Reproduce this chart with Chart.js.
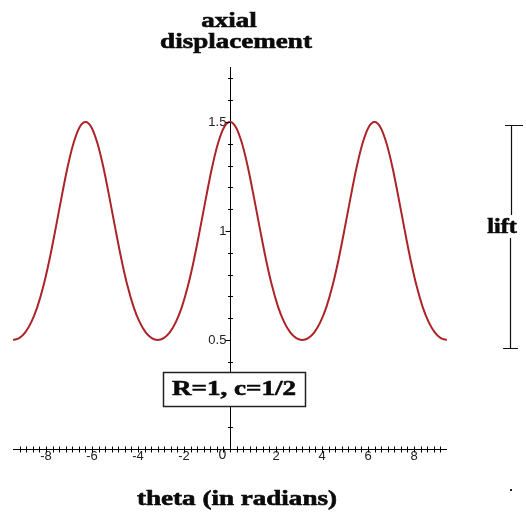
<!DOCTYPE html>
<html>
<head>
<meta charset="utf-8">
<script src="https://cdn.jsdelivr.net/npm/chart.js@4.4.1/dist/chart.umd.min.js"></script>
<style>
  html, body { margin: 0; padding: 0; background: #fff; }
  #wrap { width: 526px; height: 519px; }
</style>
</head>
<body>
<div id="wrap"><canvas id="camChart" width="526" height="519"></canvas></div>
<script>
// theta samples (radians), -3pi .. 3pi
const thetaValues = [
  -9.425, -9.163, -8.901, -8.639, -8.378, -8.116, -7.854, -7.592, -7.330, -7.069, -6.807, -6.545,
  -6.283, -6.021, -5.760, -5.498, -5.236, -4.974, -4.712, -4.451, -4.189, -3.927, -3.665, -3.403,
  -3.142, -2.880, -2.618, -2.356, -2.094, -1.833, -1.571, -1.309, -1.047, -0.785, -0.524, -0.262,
  0, 0.262, 0.524, 0.785, 1.047, 1.309, 1.571, 1.833, 2.094, 2.356, 2.618, 2.880,
  3.142, 3.403, 3.665, 3.927, 4.189, 4.451, 4.712, 4.974, 5.236, 5.498, 5.760, 6.021,
  6.283, 6.545, 6.807, 7.069, 7.330, 7.592, 7.854, 8.116, 8.378, 8.639, 8.901, 9.163, 9.425,
];

// axial displacement at each theta
const displacement = [
  0.5, 0.509, 0.535, 0.582, 0.651, 0.746, 0.866, 1.005, 1.151, 1.289, 1.401, 1.475,
  1.5, 1.475, 1.401, 1.289, 1.151, 1.005, 0.866, 0.746, 0.651, 0.582, 0.535, 0.509,
  0.5, 0.509, 0.535, 0.582, 0.651, 0.746, 0.866, 1.005, 1.151, 1.289, 1.401, 1.475,
  1.5, 1.475, 1.401, 1.289, 1.151, 1.005, 0.866, 0.746, 0.651, 0.582, 0.535, 0.509,
  0.5, 0.509, 0.535, 0.582, 0.651, 0.746, 0.866, 1.005, 1.151, 1.289, 1.401, 1.475,
  1.5, 1.475, 1.401, 1.289, 1.151, 1.005, 0.866, 0.746, 0.651, 0.582, 0.535, 0.509, 0.5,
];

const xMajorTicks = [-8, -6, -4, -2, 0, 2, 4, 6, 8];
const xMinorPerMajor = 6;
const yTickValues = [0.1, 0.2, 0.3, 0.4, 0.5, 0.6, 0.7, 0.8, 0.9, 1, 1.1, 1.2, 1.3, 1.4, 1.5, 1.6, 1.7];
const yTickLabels = ['0.5', '1', '1.5'];

const yTitle = ['axial', 'displacement'];
const xTitle = 'theta (in radians)';
const noteText = 'R=1, c=1/2';
const liftText = 'lift';

const serifBold = 'bold 22px "Liberation Serif", "DejaVu Serif", serif';
const tickFont = { family: '"Liberation Sans", Arial, sans-serif', size: 13 };
const stretch = 1.23;

// x ticks: majors every 2 with 6 minors between
const xTickList = [];
for (let i = -32; i <= 32; i++) {
  xTickList.push({ value: (i * 2) / (xMinorPerMajor + 1), major: i % (xMinorPerMajor + 1) === 0 });
}

function stretchedText(ctx, text, x, y, sx) {
  ctx.save();
  ctx.translate(x, y);
  ctx.scale(sx || stretch, 1);
  ctx.font = serifBold;
  ctx.textAlign = 'center';
  ctx.textBaseline = 'alphabetic';
  ctx.fillStyle = '#0a0a0a';
  ctx.strokeStyle = '#0a0a0a';
  ctx.lineWidth = 0.6;
  ctx.fillText(text, 0, 0);
  ctx.strokeText(text, 0, 0);
  ctx.restore();
}

const decorations = {
  id: 'decorations',
  afterDraw(chart) {
    const { ctx } = chart;
    const xs = chart.scales.x;
    const ys = chart.scales.y;
    const x0 = Math.round(xs.getPixelForValue(0)) + 0.5;
    const y0 = Math.round(ys.getPixelForValue(0)) + 0.5;

    ctx.save();
    ctx.strokeStyle = '#000';
    ctx.lineWidth = 1;
    ctx.beginPath();
    xs.ticks.forEach((t) => {
      const px = Math.round(xs.getPixelForValue(t.value)) + 0.5;
      ctx.moveTo(px, y0 - 3);
      ctx.lineTo(px, y0 + 3);
    });
    ys.ticks.forEach((t) => {
      const py = Math.round(ys.getPixelForValue(t.value)) + 0.5;
      const major = yTickLabels.includes(String(t.value));
      ctx.moveTo(major ? x0 - 5 : x0 - 2.5, py);
      ctx.lineTo(major ? x0 : x0 + 2.5, py);
    });
    ctx.stroke();

    // origin label sits left of the vertical axis
    ctx.fillStyle = '#222';
    ctx.font = '14px "Liberation Sans", Arial, sans-serif';
    ctx.textAlign = 'center';
    ctx.textBaseline = 'middle';
    ctx.fillText('0', x0 - 8, y0 + 6);

    // axis titles
    stretchedText(ctx, yTitle[0], 229, 27);
    stretchedText(ctx, yTitle[1], 236, 48);
    stretchedText(ctx, xTitle, 237, 505);

    // parameter box
    ctx.fillStyle = '#fff';
    ctx.fillRect(163, 372, 143, 35);
    ctx.strokeStyle = '#222';
    ctx.lineWidth = 1.5;
    ctx.strokeRect(163.5, 372.5, 142, 34);
    stretchedText(ctx, noteText, 234, 395);

    // lift bracket
    ctx.strokeStyle = '#111';
    ctx.lineWidth = 1.2;
    ctx.beginPath();
    ctx.moveTo(505, 125.5); ctx.lineTo(523, 125.5);
    ctx.moveTo(511.5, 125.5); ctx.lineTo(511.5, 215);
    ctx.moveTo(510.5, 238); ctx.lineTo(510.5, 348);
    ctx.moveTo(503, 348.5); ctx.lineTo(518, 348.5);
    ctx.stroke();
    stretchedText(ctx, liftText, 502, 233, 1.1);

    // stray dot
    ctx.fillStyle = '#222';
    ctx.fillRect(510, 489, 2, 2);
    ctx.restore();
  },
};

new Chart(document.getElementById('camChart'), {
  type: 'line',
  data: {
    datasets: [
      {
        data: thetaValues.map((t, i) => ({ x: t, y: displacement[i] })),
        borderColor: '#ad2428',
        borderWidth: 2,
        pointRadius: 0,
        cubicInterpolationMode: 'monotone',
        clip: 6,
      },
    ],
  },
  options: {
    responsive: false,
    animation: false,
    layout: { padding: { left: 13.2, right: 79.2, top: 67.5, bottom: 70 } },
    plugins: { legend: { display: false }, tooltip: { enabled: false } },
    scales: {
      x: {
        type: 'linear',
        min: -9.425,
        max: 9.425,
        position: { y: 0 },
        afterFit: (s) => { s.height = 0; },
        afterBuildTicks: (s) => { s.ticks = xTickList.map((t) => ({ value: t.value })); },
        grid: { display: false, drawTicks: false },
        border: { display: true, color: '#000', width: 1 },
        ticks: {
          autoSkip: false,
          maxRotation: 0,
          padding: 0,
          color: '#222',
          font: tickFont,
          callback: (v, i) => {
            const tk = xTickList[i];
            if (!tk || !tk.major) return '';
            const n = Math.round(v);
            return n === 0 || !xMajorTicks.includes(n) ? '' : String(n);
          },
        },
      },
      y: {
        type: 'linear',
        min: 0,
        max: 1.75,
        position: { x: 0 },
        afterFit: (s) => { s.width = 0; },
        afterBuildTicks: (s) => { s.ticks = yTickValues.map((v) => ({ value: v })); },
        grid: { display: false, drawTicks: false },
        border: { display: true, color: '#000', width: 1 },
        ticks: {
          autoSkip: false,
          color: '#222',
          font: tickFont,
          callback: (v) => (yTickLabels.includes(String(v)) ? String(v) + '\u00a0' : ''),
        },
      },
    },
  },
  plugins: [decorations],
});
</script>
</body>
</html>
